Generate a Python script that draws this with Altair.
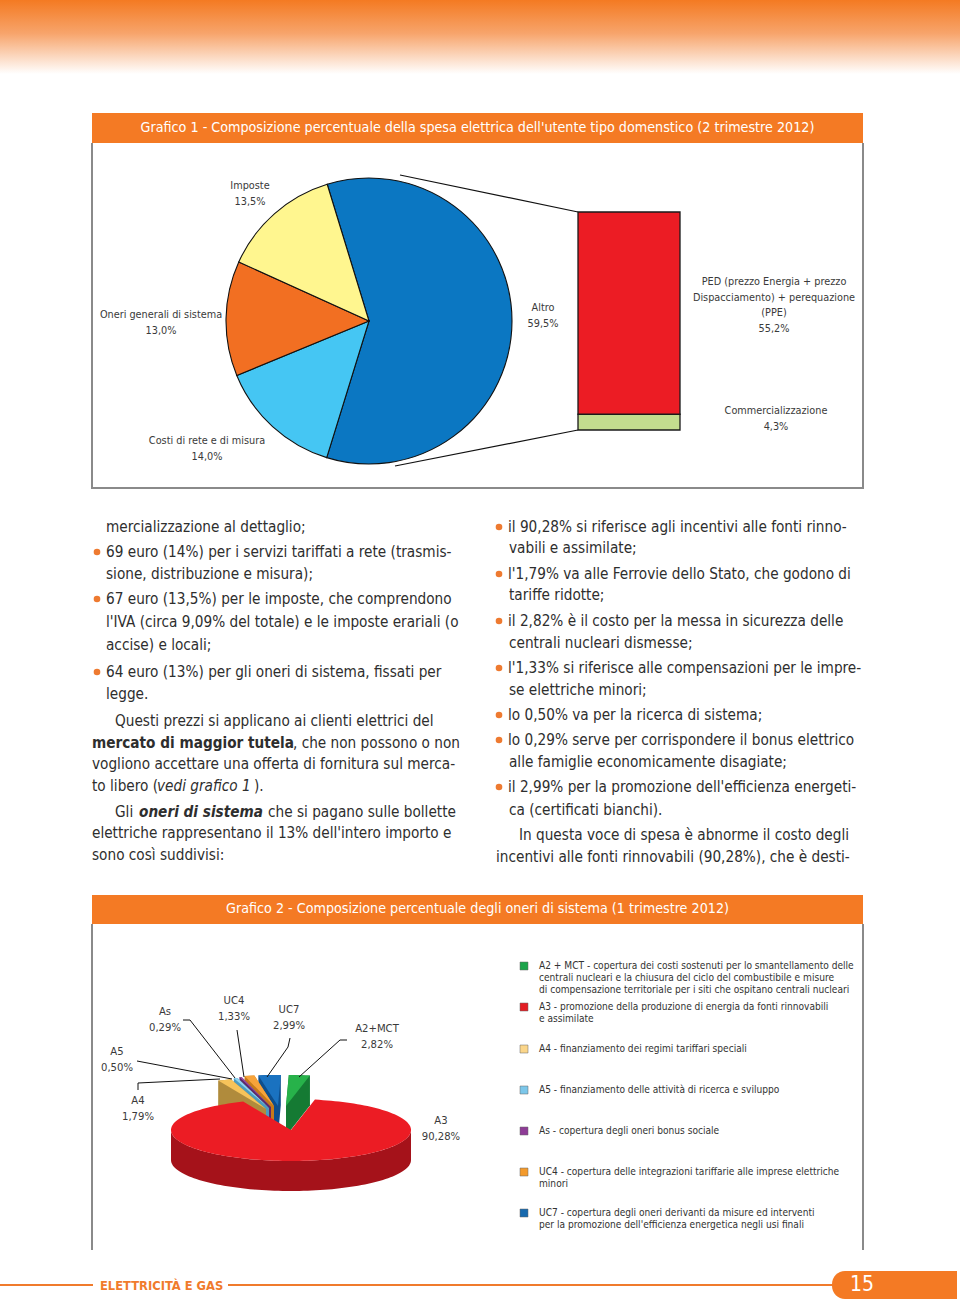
import math
import altair as alt
import pandas as pd

W, H = 960, 1304
NARROW = "Liberation Sans Narrow, Arial Narrow, DejaVu Sans Condensed, sans-serif"
TXT = "#333333"
ORANGE = "#F47A24"

# ---------------- data ----------------
title1 = "Grafico 1 - Composizione percentuale della spesa elettrica dell'utente tipo domenstico (2 trimestre 2012)"
title2 = "Grafico 2 - Composizione percentuale degli oneri di sistema (1 trimestre 2012)"

pie1_labels = ["Altro", "Costi di rete e di misura", "Oneri generali di sistema", "Imposte"]
pie1_values = [59.5, 14.0, 13.0, 13.5]

bar1_labels = ["Commercializzazione", "PED (prezzo Energia + prezzo\nDispacciamento) + perequazione\n(PPE)"]
bar1_values = [4.3, 55.2]

pie2_labels = ["A3", "A4", "A5", "As", "UC4", "UC7", "A2+MCT"]
pie2_values = [90.28, 1.79, 0.50, 0.29, 1.33, 2.99, 2.82]

legend2_labels = ["A2+MCT", "A3", "A4", "A5", "As", "UC4", "UC7"]
legend2_texts = [
    "A2 + MCT - copertura dei costi sostenuti per lo smantellamento delle\ncentrali nucleari e la chiusura del ciclo del combustibile e misure\ndi compensazione territoriale  per i siti che ospitano centrali nucleari",
    "A3 - promozione della produzione di energia da fonti rinnovabili\ne assimilate",
    "A4 - finanziamento dei regimi tariffari speciali",
    "A5 - finanziamento delle attività di ricerca e sviluppo",
    "As - copertura degli oneri bonus sociale",
    "UC4 - copertura delle integrazioni tariffarie alle imprese elettriche\nminori",
    "UC7 - copertura degli oneri derivanti da misure ed interventi\nper la promozione dell'efficienza energetica negli usi finali",
]

body_left = [
    ("r", "mercializzazione al dettaglio;"),
    ("r", "69 euro (14%) per i servizi tariffati a rete (trasmis-"),
    ("r", "sione, distribuzione e misura);"),
    ("r", "67 euro (13,5%) per le imposte, che comprendono"),
    ("r", "l'IVA (circa 9,09% del totale) e le imposte erariali (o"),
    ("r", "accise) e locali;"),
    ("r", "64 euro (13%) per gli oneri di sistema, fissati per"),
    ("r", "legge."),
    ("r", "Questi prezzi si applicano ai clienti elettrici del"),
    ("b", "mercato di maggior tutela"),
    ("r", ", che non possono o non"),
    ("r", "vogliono accettare una offerta di fornitura sul merca-"),
    ("r", "to libero ("),
    ("i", "vedi grafico 1"),
    ("r", ")."),
    ("r", "Gli"),
    ("bi", "oneri di sistema"),
    ("r", "che si pagano sulle bollette"),
    ("r", "elettriche rappresentano il 13% dell'intero importo e"),
    ("r", "sono così suddivisi:"),
]
body_right = [
    "il 90,28% si riferisce agli incentivi alle fonti rinno-",
    "vabili e assimilate;",
    "l'1,79% va alle Ferrovie dello Stato, che godono di",
    "tariffe ridotte;",
    "il 2,82% è il costo per la messa in sicurezza delle",
    "centrali nucleari dismesse;",
    "l'1,33% si riferisce alle compensazioni per le impre-",
    "se elettriche minori;",
    "lo 0,50% va per la ricerca di sistema;",
    "lo 0,29% serve per corrispondere il bonus elettrico",
    "alle famiglie economicamente disagiate;",
    "il 2,99% per la promozione dell'efficienza energeti-",
    "ca (certificati bianchi).",
    "In questa voce di spesa è abnorme il costo degli",
    "incentivi alle fonti rinnovabili (90,28%), che è desti-",
]
footer_text = "ELETTRICITÀ E GAS"
page_number = "15"

# ---------------- styles / layout ----------------
pie1_colors = ["#0B77C2", "#45C6F3", "#F26F22", "#FFF68F"]
bar1_colors = ["#C3DD8E", "#EC1C24"]
pie2_top = ["#EC1C24", "#F6C35A", "#8FD3F0", "#9B4FA8", "#F7A33A", "#1A72C0", "#27B24A"]
pie2_side = ["#A5121A", "#B08B3C", "#4C9CC0", "#5E2A6A", "#C77A1A", "#0E4E8C", "#157A33"]
legend2_colors = ["#1BA34A", "#E31E24", "#FBD68A", "#7CC7EA", "#8E3C96", "#F39A2C", "#1769AE"]

pie1_label_pos = {"Altro": (543, 308), "Costi di rete e di misura": (207, 441),
                  "Oneri generali di sistema": (161, 315), "Imposte": (250, 186)}
bar1_label_pos = {bar1_labels[0]: (776, 411), bar1_labels[1]: (774, 282)}
pie2_label_pos = {"A3": (441, 1121), "A4": (138, 1101), "A5": (117, 1052), "As": (165, 1012),
                  "UC4": (234, 1001), "UC7": (289, 1010), "A2+MCT": (377, 1029)}
pie2_explode = {"A4": (-25, -21), "A5": (-22, -22), "As": (-20, -23), "UC4": (-17, -24),
                "UC7": (-13, -24), "A2+MCT": (-5, -24)}
# drawing order of the exploded slices (back to front)
pie2_draw_order = ["A2+MCT", "UC7", "UC4", "As", "A5", "A4"]
legend2_y = [966, 1007, 1049, 1090, 1131, 1172, 1213]
left_pos = [(106, 527), (106, 552), (106, 574), (106, 599), (106, 622), (106, 645), (106, 672),
            (106, 694), (115, 721), (92, 743), (293, 743), (92, 764), (92, 786), (157, 786),
            (254, 786), (115, 812), (139, 812), (268, 812), (92, 833), (92, 855)]
right_pos = [(508, 527), (509, 548), (508, 574), (509, 595), (508, 621), (509, 643), (508, 668),
             (509, 690), (508, 715), (508, 740), (509, 762), (508, 787), (509, 810), (519, 835),
             (496, 857)]
bullets = [(97, 552), (97, 599), (97, 672), (499, 527), (499, 574), (499, 621), (499, 668),
           (499, 715), (499, 740), (499, 787)]

PX = alt.Scale(domain=[0, W], nice=False, zero=False)
PY = alt.Scale(domain=[0, H], reverse=True, nice=False, zero=False)


def X(f="x"):
    return alt.X(f"{f}:Q", scale=PX, axis=None)


def Y(f="y"):
    return alt.Y(f"{f}:Q", scale=PY, axis=None)


def fmt(v, d):
    return f"{v:.{d}f}".replace(".", ",") + "%"


def text_layer(rows, size, color=TXT, align="left", weight="normal", style="normal", font=NARROW):
    df = pd.DataFrame(rows, columns=["x", "y", "t"])
    return alt.Chart(df).mark_text(align=align, baseline="middle", fontSize=size, font=font,
                                   color=color, fontWeight=weight, fontStyle=style).encode(
        x=X(), y=Y(), text="t:N")


def rule_layer(segs, color, width):
    df = pd.DataFrame(segs, columns=["x", "y", "x2", "y2"])
    return alt.Chart(df).mark_rule(color=color, strokeWidth=width).encode(
        x=X(), y=Y(), x2="x2:Q", y2="y2:Q")


one = pd.DataFrame({"k": [0]})
layers = []

# header gradient
layers.append(alt.Chart(one).mark_rect(fill=alt.LinearGradient(
    gradient="linear", x1=0, x2=0, y1=0, y2=1,
    stops=[alt.GradientStop(color="#F47A22", offset=0), alt.GradientStop(color="#F7A46B", offset=0.45),
           alt.GradientStop(color="#FFFFFF", offset=1)])).encode(
    x=alt.value(0), x2=alt.value(W), y=alt.value(0), y2=alt.value(74)))

# banners
for y0, y1 in [(113, 143), (895, 924)]:
    layers.append(alt.Chart(one).mark_rect(color=ORANGE).encode(
        x=alt.value(92), x2=alt.value(863), y=alt.value(y0), y2=alt.value(y1)))
layers.append(text_layer([(477.5, 128, title1), (477.5, 909, title2)], 14.2, color="white", align="center"))

# boxes
layers.append(rule_layer([(92, 143, 92, 488), (863, 143, 863, 488), (91, 488, 864, 488),
                          (92, 924, 92, 1250), (863, 924, 863, 1250)], "#8A8A8A", 2))

# ---- chart 1: pie ----
start1 = -17 * math.pi / 180
pie1_df = pd.DataFrame({"c": pie1_labels, "v": pie1_values, "o": range(len(pie1_labels))})
layers.append(alt.Chart(pie1_df).mark_arc(stroke="#111111", strokeWidth=1.1).encode(
    theta=alt.Theta("v:Q", stack=True, scale=alt.Scale(range=[start1, start1 + 2 * math.pi])),
    color=alt.Color("c:N", scale=alt.Scale(domain=pie1_labels, range=pie1_colors), legend=None),
    order=alt.Order("o:Q"),
    x=alt.value(369), y=alt.value(321), radius=alt.value(143)))

# connectors pie -> bar
layers.append(rule_layer([(400, 175, 578, 212), (395, 466, 578, 430)], "#111111", 1.2))

# ---- chart 1: stacked bar ----
bar_df = pd.DataFrame({"c": bar1_labels, "v": bar1_values, "o": range(len(bar1_labels))})
layers.append(alt.Chart(bar_df).transform_window(
    cum="sum(v)", sort=[alt.SortField("o")]
).transform_calculate(lo="datum.cum - datum.v").mark_rect(stroke="#1a1a1a", strokeWidth=1.3).encode(
    x=alt.value(578), x2=alt.value(680),
    y=alt.Y("cum:Q", axis=None,
            scale=alt.Scale(domain=[0, sum(bar1_values)], range=[430, 212], nice=False, zero=True)),
    y2="lo:Q",
    color=alt.Color("c:N", scale=alt.Scale(domain=bar1_labels, range=bar1_colors), legend=None)))

# chart 1 labels
rows = []
for lab, v in zip(pie1_labels, pie1_values):
    x, y = pie1_label_pos[lab]
    rows += [(x, y, lab), (x, y + 16, fmt(v, 1))]
for lab, v in zip(bar1_labels, bar1_values):
    x, y = bar1_label_pos[lab]
    parts = lab.split("\n")
    for i, p in enumerate(parts):
        rows.append((x, y + i * 15.7, p))
    rows.append((x, y + len(parts) * 15.7, fmt(v, 1)))
layers.append(text_layer(rows, 10.8, color="#3a3a3a", align="center"))

# ---- body text ----
styles = {"r": ("normal", "normal"), "b": ("bold", "normal"), "i": ("normal", "italic"), "bi": ("bold", "italic")}
for key, (wt, st) in styles.items():
    rows = [(p[0], p[1], t) for (s, t), p in zip(body_left, left_pos) if s == key]
    if key == "r":
        rows += [(p[0], p[1], t) for t, p in zip(body_right, right_pos)]
    layers.append(text_layer(rows, 15.2, color="#2e2e2e", weight=wt, style=st))
bul_df = pd.DataFrame(bullets, columns=["x", "y"])
layers.append(alt.Chart(bul_df).mark_circle(size=44, color="#EE7A30", opacity=1).encode(x=X(), y=Y()))

# ---- chart 2: 3D exploded pie ----
CX2, CY2, RX2, RY2, DEPTH = 291, 1130, 120, 31, 30
start2 = 11.5 * math.pi / 180
tot2 = sum(pie2_values)


def rim(a, dy=0.0):
    return (RX2 * math.sin(a), -RY2 * math.cos(a) + dy)


def arc_pts(a0, a1, dy=0.0):
    n = max(2, int(abs(a1 - a0) * 180 / math.pi / 2) + 1)
    return [rim(a0 + (a1 - a0) * i / (n - 1), dy) for i in range(n)]


def to_path(pts):
    return "M " + " L ".join(f"{x:.2f} {y:.2f}" for x, y in pts) + " Z"


def hull(pts):
    pts = sorted(set((round(x, 3), round(y, 3)) for x, y in pts))

    def cross(o, a, b):
        return (a[0] - o[0]) * (b[1] - o[1]) - (a[1] - o[1]) * (b[0] - o[0])
    lower, upper = [], []
    for p in pts:
        while len(lower) >= 2 and cross(lower[-2], lower[-1], p) <= 0:
            lower.pop()
        lower.append(p)
    for p in reversed(pts):
        while len(upper) >= 2 and cross(upper[-2], upper[-1], p) <= 0:
            upper.pop()
        upper.append(p)
    return lower[:-1] + upper[:-1]


angles = {}
acc = start2
for lab, v in zip(pie2_labels, pie2_values):
    a0 = acc
    acc += v / tot2 * 2 * math.pi
    angles[lab] = (a0, acc)

pie_rows = []
# exploded small slices first (behind), then the big A3 slice
for lab in pie2_draw_order:
    a0, a1 = angles[lab]
    dx, dy = pie2_explode[lab]
    top = [(0.0, 0.0)] + arc_pts(a0, a1)
    bottom = [(x, y + DEPTH) for x, y in top]
    pie_rows.append({"k": lab + " side", "p": to_path(hull(top + bottom)), "x": CX2 + dx, "y": CY2 + dy})
    pie_rows.append({"k": lab + " top", "p": to_path(top), "x": CX2 + dx, "y": CY2 + dy})
a0, a1 = angles["A3"]
band = arc_pts(math.pi / 2, 3 * math.pi / 2) + arc_pts(3 * math.pi / 2, math.pi / 2, DEPTH)
pie_rows.append({"k": "A3 side", "p": to_path(band), "x": CX2, "y": CY2})
pie_rows.append({"k": "A3 top", "p": to_path([(0.0, 0.0)] + arc_pts(a0, a1)), "x": CX2, "y": CY2})
pie2_df = pd.DataFrame(pie_rows)
pie2_df["o"] = range(len(pie2_df))
keys = [l + " side" for l in pie2_labels] + [l + " top" for l in pie2_labels]
cols = pie2_side + pie2_top
layers.append(alt.Chart(pie2_df).mark_point(filled=True, opacity=1, strokeWidth=0).encode(
    x=X(), y=Y(), shape=alt.Shape("p:N", scale=None),
    color=alt.Color("k:N", scale=alt.Scale(domain=keys, range=cols), legend=None),
    size=alt.value(4), order=alt.Order("o:Q")))

# leader lines
lead = {
    "As": [(183, 1020), (190, 1020), (235, 1078)],
    "UC4": [(237, 1030), (244, 1077)],
    "UC7": [(290, 1038), (288, 1047), (267, 1077)],
    "A2+MCT": [(347, 1040), (340, 1040), (299, 1077)],
    "A5": [(137, 1061), (232, 1079)],
    "A4": [(138, 1090), (138, 1083), (220, 1079)],
}
lrows = []
for k, pts in lead.items():
    for i, (x, y) in enumerate(pts):
        lrows.append({"id": k, "s": i, "x": x, "y": y})
layers.append(alt.Chart(pd.DataFrame(lrows)).mark_line(color="#111111", strokeWidth=1).encode(
    x=X(), y=Y(), detail="id:N", order="s:Q"))

rows = []
for lab, v in zip(pie2_labels, pie2_values):
    x, y = pie2_label_pos[lab]
    rows += [(x, y, lab), (x, y + 16, fmt(v, 2))]
layers.append(text_layer(rows, 11.2, color="#3a3a3a", align="center"))

# legend
leg_df = pd.DataFrame({"c": legend2_labels, "x": [524] * 7, "y": legend2_y})
layers.append(alt.Chart(leg_df).mark_square(size=64, opacity=1, stroke="#666666", strokeWidth=0.5).encode(
    x=X(), y=Y(), color=alt.Color("c:N", scale=alt.Scale(domain=legend2_labels, range=legend2_colors), legend=None)))
rows = []
for t, y in zip(legend2_texts, legend2_y):
    for i, line in enumerate(t.split("\n")):
        rows.append((539, y + i * 12, line))
layers.append(text_layer(rows, 10.1, color="#333333"))

# footer
layers.append(rule_layer([(0, 1285, 93, 1285), (228, 1285, 840, 1285)], "#F07B2C", 2))
layers.append(alt.Chart(one).mark_rect(color=ORANGE, cornerRadiusTopLeft=13, cornerRadiusBottomLeft=13).encode(
    x=alt.value(832), x2=alt.value(957), y=alt.value(1271), y2=alt.value(1299)))
layers.append(text_layer([(100, 1286, footer_text)], 12.8, color="#F07B2C", weight="bold"))
layers.append(text_layer([(850, 1285, page_number)], 21, color="white"))

chart = alt.layer(*layers).resolve_scale(y="independent", color="independent", theta="independent").properties(
    width=W, height=H, padding=0, autosize=alt.AutoSizeParams(type="none"), background="white"
).configure_view(stroke=None)

chart.save("out.html", embed_options={"renderer": "svg", "actions": False})
